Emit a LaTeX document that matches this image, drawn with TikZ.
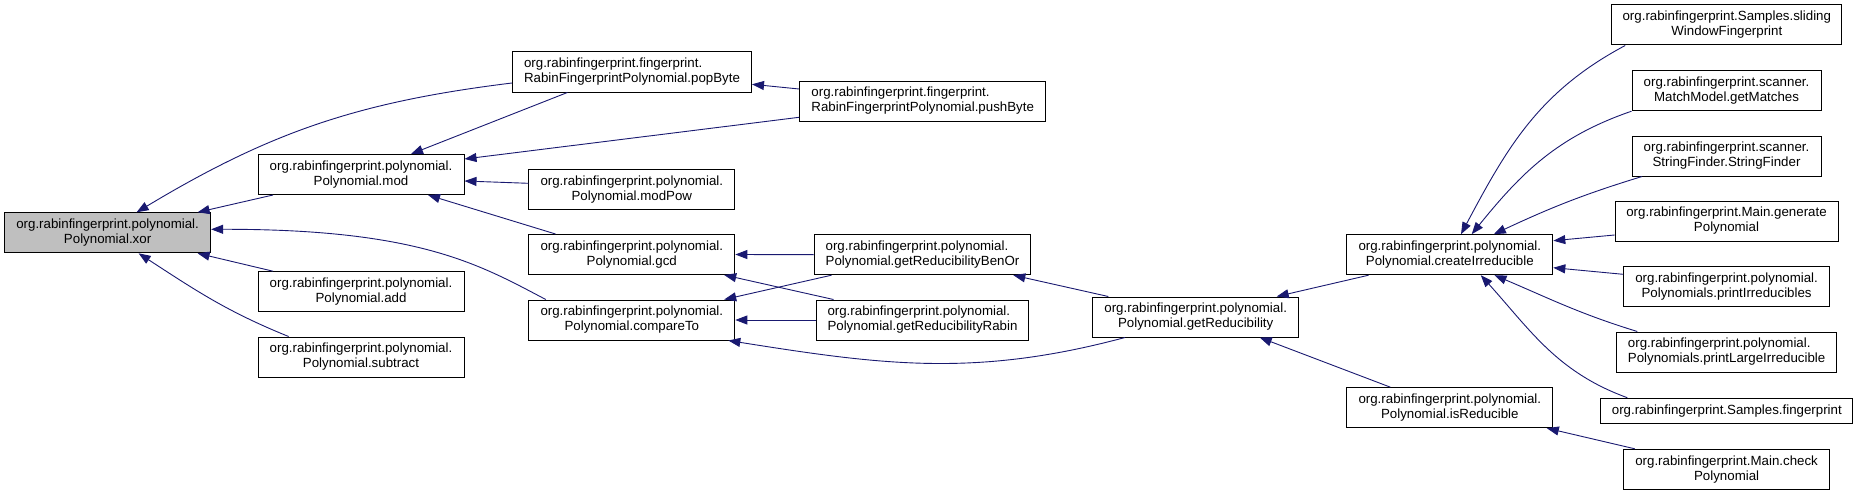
\documentclass[tikz,border=0pt]{standalone}
\usepackage{fontspec}
\setmainfont{Liberation Sans}
\usepackage{tikz}
\usetikzlibrary{positioning,calc}
\usetikzlibrary{arrows.meta}
\definecolor{CallBlue}{RGB}{25,25,112}
\definecolor{SelGray}{RGB}{191,191,191}
\tikzset{
  fn/.style={draw=black,fill=white,line width=1pt,inner sep=0pt,minimum height=40pt,
    minimum width=206pt,align=center,font=\fontsize{13.3}{15}\selectfont},
  call/.style={draw=CallBlue,line width=0.9pt,-{Triangle[length=12pt,width=9pt]}},
}
\tikzset{sel/.style={fn,fill=SelGray}, fnl/.style={fn,align=left}}

\begin{document}
\begin{tikzpicture}[x=1pt,y=1pt]
\useasboundingbox (0,0) rectangle (1859,-495);
\node[sel] (xor) at (107.6,-232.8) {org.rabinfingerprint.polynomial.\\Polynomial.xor};
\node[fnl,minimum width=239pt] (popByte) at (632,-72) {org.rabinfingerprint.fingerprint.\\RabinFingerprintPolynomial.popByte};
\node[fnl,minimum width=246pt] (pushByte) at (922.7,-101) {org.rabinfingerprint.fingerprint.\\RabinFingerprintPolynomial.pushByte};
\node[fn] (mod) at (361,-174.5) {org.rabinfingerprint.polynomial.\\Polynomial.mod};
\node[fn] (add) at (361,-291.7) {org.rabinfingerprint.polynomial.\\Polynomial.add};
\node[fn] (subtract) at (361,-357) {org.rabinfingerprint.polynomial.\\Polynomial.subtract};
\node[fn] (modPow) at (631.8,-189.3) {org.rabinfingerprint.polynomial.\\Polynomial.modPow};
\node[fn] (gcd) at (631.8,-254.5) {org.rabinfingerprint.polynomial.\\Polynomial.gcd};
\node[fn] (compareTo) at (631.8,-320) {org.rabinfingerprint.polynomial.\\Polynomial.compareTo};
\node[fnl,minimum width=216pt] (benOr) at (922.5,-254.7) {org.rabinfingerprint.polynomial.\\Polynomial.getReducibilityBenOr};
\node[fnl,minimum width=212pt] (rabin) at (922.5,-320) {org.rabinfingerprint.polynomial.\\Polynomial.getReducibilityRabin};
\node[fn] (getRed) at (1195.7,-317) {org.rabinfingerprint.polynomial.\\Polynomial.getReducibility};
\node[fn] (createIrr) at (1449.8,-254.7) {org.rabinfingerprint.polynomial.\\Polynomial.createIrreducible};
\node[fn] (isRed) at (1449.8,-407.7) {org.rabinfingerprint.polynomial.\\Polynomial.isReducible};
\node[fn,minimum width=230pt] (sliding) at (1726.8,-25) {org.rabinfingerprint.Samples.sliding\\WindowFingerprint};
\node[fn,minimum width=189pt] (matches) at (1726.5,-90.7) {org.rabinfingerprint.scanner.\\MatchModel.getMatches};
\node[fn,minimum width=189pt] (finder) at (1726.5,-156) {org.rabinfingerprint.scanner.\\StringFinder.StringFinder};
\node[fn,minimum width=223pt] (generate) at (1726.5,-221) {org.rabinfingerprint.Main.generate\\Polynomial};
\node[fn] (printIrr) at (1726.6,-286.7) {org.rabinfingerprint.polynomial.\\Polynomials.printIrreducibles};
\node[fnl,minimum width=220pt] (printLarge) at (1726.6,-352) {org.rabinfingerprint.polynomial.\\Polynomials.printLargeIrreducible};
\node[fn,minimum width=252pt,minimum height=25pt] (samplesFp) at (1726.8,-410.7) {org.rabinfingerprint.Samples.fingerprint};
\node[fn] (checkPoly) at (1726.6,-469.3) {org.rabinfingerprint.Main.check\\Polynomial};

\draw[call] ([yshift=-11pt]popByte.west) to[out=187,in=31] ([xshift=29pt]xor.north);
\draw[call] ([xshift=-88pt]mod.south) -- ([xshift=90pt]xor.north);
\draw[call] ([xshift=-86pt]compareTo.north) .. controls (480,-265) and (420,-229) .. ([yshift=3.5pt]xor.east);
\draw[call] ([xshift=-88pt]add.north) -- ([xshift=90pt]xor.south);
\draw[call] ([xshift=-72.4pt]subtract.north) to[out=158,in=-33] ([xshift=31pt]xor.south);
\draw[call] ([xshift=-64.6pt]popByte.south) -- ([xshift=50pt]mod.north);
\draw[call] ([yshift=12pt]pushByte.west) -- ([yshift=-12.3pt]popByte.east);
\draw[call] ([yshift=-16.3pt]pushByte.west) -- ([yshift=15.5pt]mod.east);
\draw[call] ([yshift=6pt]modPow.west) -- ([yshift=-6.5pt]mod.east);
\draw[call] ([xshift=-76.3pt]gcd.north) -- ([xshift=67pt]mod.south);
\draw[call] (benOr.west) -- (gcd.east);
\draw[call] ([xshift=-89pt]rabin.north) -- ([xshift=92.4pt]gcd.south);
\draw[call] ([xshift=-91pt]benOr.south) -- ([xshift=92.4pt]compareTo.north);
\draw[call] (rabin.west) -- (compareTo.east);
\draw[call] ([xshift=-70.7pt]getRed.south) to[out=195,in=-9] ([xshift=96.5pt]compareTo.south);
\draw[call] ([xshift=-87.4pt]getRed.north) -- ([xshift=90.8pt]benOr.south);
\draw[call] ([xshift=-81.2pt]createIrr.south) -- ([xshift=81pt]getRed.north);
\draw[call] ([xshift=-59.4pt]isRed.north) -- ([xshift=64pt]getRed.south);
\draw[call] ([xshift=-101.6pt]sliding.south) to[out=208,in=62] ([xshift=11.2pt]createIrr.north);
\draw[call] (matches.south west) to[out=199,in=51] ([xshift=21.9pt]createIrr.north);
\draw[call] ([xshift=-84.5pt]finder.south) to[out=197,in=25] ([xshift=44pt]createIrr.north);
\draw[call] ([yshift=-14pt]generate.west) -- ([yshift=14pt]createIrr.east);
\draw[call] ([yshift=12.4pt]printIrr.west) -- ([yshift=-13pt]createIrr.east);
\draw[call] ([xshift=-89.3pt]printLarge.north) to[out=163,in=-23] ([xshift=44.7pt]createIrr.south);
\draw[call] ([xshift=-99.5pt]samplesFp.north) to[out=160,in=-48] ([xshift=31pt]createIrr.south);
\draw[call] ([xshift=-91.8pt]checkPoly.north) -- ([xshift=97pt]isRed.south);
\end{tikzpicture}
\end{document}
